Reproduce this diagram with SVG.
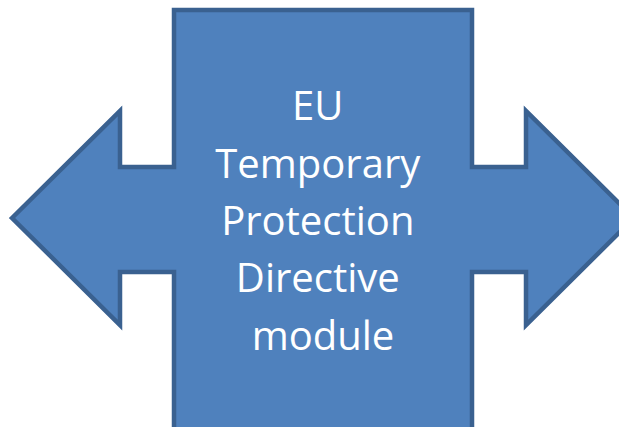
<svg xmlns="http://www.w3.org/2000/svg" width="619" height="427" viewBox="0 0 619 427">
  <style>
    .shape { fill: #4F81BD; stroke: #3A6190; stroke-width: 4.5; stroke-linejoin: miter; }
    .label { fill: #FFFFFF; font-family: "Open Sans", "Noto Sans", "Liberation Sans", sans-serif; font-size: 40px; text-anchor: middle; }
  </style>
  <rect width="619" height="427" fill="#FFFFFF"/>
  <g id="node-left-right-arrow">
    <polygon class="shape" points="12,218 120,111 120,167 174,167 174,10 472,10 472,167 526,167 526,111 634,218 526,325 526,272 472,272 472,440 174,440 174,272 120,272 120,325"/>
    <text class="label">
      <tspan x="323" y="120">EU</tspan>
      <tspan x="323" y="177.5">Temporary</tspan>
      <tspan x="323" y="235">Protection</tspan>
      <tspan x="323" y="292">Directive</tspan>
      <tspan x="323" y="349.5">module</tspan>
    </text>
  </g>
  <g id="connectors"></g>
</svg>
